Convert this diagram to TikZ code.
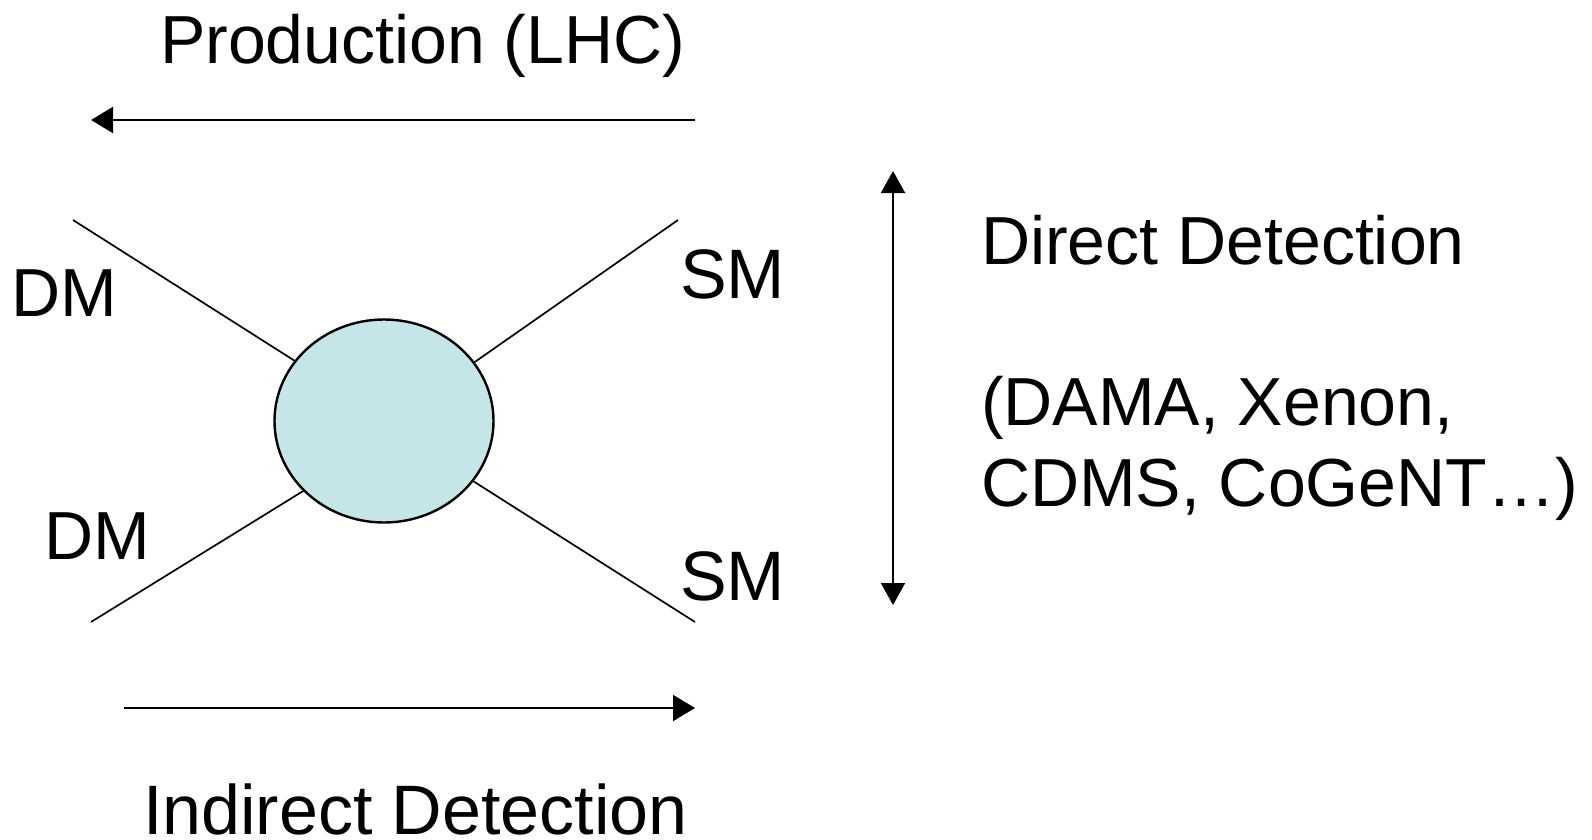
\documentclass[tikz,border=0pt]{standalone}
\usepackage{fontspec}
\setmainfont{Liberation Sans}
\usetikzlibrary{arrows.meta,shapes.geometric}
\definecolor{blobfill}{RGB}{197,229,232}
\tikzset{
  lbl/.style={anchor=base west, inner sep=0pt, outer sep=0pt, font=\fontsize{68}{81}\selectfont},
  leg/.style={line width=1.7pt, line cap=butt},
  arr/.style={line width=2pt, -{Triangle[length=22pt,width=26pt]}},
  darr/.style={line width=2pt, {Triangle[length=22pt,width=24pt]}-{Triangle[length=22pt,width=24pt]}},
  blobstyle/.style={ellipse, draw, line width=2.4pt, fill=blobfill, minimum width=219pt, minimum height=203pt, inner sep=0pt, outer sep=0pt}
}
\begin{document}
\begin{tikzpicture}[x=1pt,y=-1pt]
\useasboundingbox (0,0) rectangle (1592,840);
% central blob
\node[blobstyle] (blob) at (384,421) {};
% external legs
\coordinate (tl) at (73,220);
\coordinate (tr) at (678,220);
\coordinate (bl) at (91,622);
\coordinate (br) at (695,622);
\draw[leg] (tl) -- (blob.146.5);
\draw[leg] (tr) -- (blob.33.2);
\draw[leg] (bl) -- (blob.221.5);
\draw[leg] (br) -- (blob.326.3);
% labels
\node[lbl] (dm1) at (11,316) {DM};
\node[lbl] (dm2) at (44,559) {DM};
\node[lbl, font=\fontsize{70}{81}\selectfont] (sm1) at (680,298) {SM};
\node[lbl, font=\fontsize{70}{81}\selectfont] (sm2) at (680,600) {SM};
\node[lbl] (prod) at (160,64) {Production (LHC)};
\node[lbl, font=\fontsize{70}{81}\selectfont] (indir) at (143,834) {Indirect Detection};
\node[lbl] (dir) at (981,264) {Direct Detection};
\node[lbl] (exp1) at (981,425) {(DAMA, Xenon,};
\node[lbl] (exp2) at (981,506) {CDMS, CoGeNT…)};
% arrows
\coordinate (pa) at (695,120);
\coordinate (pb) at (91,120);
\draw[arr] (pa) -- (pb);
\coordinate (ia) at (124,708);
\coordinate (ib) at (695,708);
\draw[arr] (ia) -- (ib);
\coordinate (da) at (893,171);
\coordinate (db) at (893,605);
\draw[darr] (da) -- (db);
\end{tikzpicture}
\end{document}
